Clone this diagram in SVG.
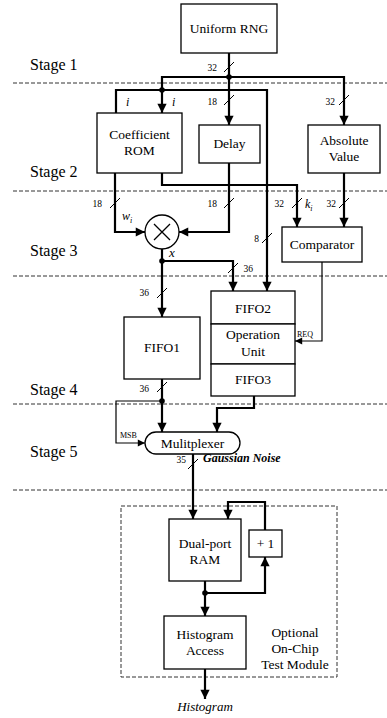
<svg xmlns="http://www.w3.org/2000/svg" width="387" height="718" viewBox="0 0 387 718" font-family="'Liberation Serif', 'DejaVu Serif', serif">
<style>
text{font-family:'Liberation Serif','DejaVu Serif',serif;fill:#000}
.box{fill:#fff;stroke:#000;stroke-width:1.3}
.lbl{font-size:13.5px;text-anchor:middle}
.stage{font-size:16px}
.num{font-size:9.5px;text-anchor:end}
.small{font-size:8px}
.dash{stroke:#333;stroke-width:1;stroke-dasharray:4 2;fill:none}
.w{fill:none;stroke:#000;stroke-width:2.2}
.t{fill:none;stroke:#000;stroke-width:1.2}
.sl{stroke:#000;stroke-width:1}
</style>
<defs>
<marker id="ah" viewBox="0 0 10 10" refX="10" refY="5" markerWidth="4.5" markerHeight="4.2" orient="auto" markerUnits="strokeWidth"><path d="M0,0 L10,5 L0,10 z" fill="#000"/></marker>
<marker id="ahs" viewBox="0 0 10 10" refX="10" refY="5" markerWidth="7" markerHeight="6" orient="auto" markerUnits="strokeWidth"><path d="M0,0 L10,5 L0,10 z" fill="#000"/></marker>
</defs>
<g id="stages">
<line class="dash" x1="13" y1="83" x2="387" y2="83"/>
<line class="dash" x1="13" y1="191" x2="387" y2="191"/>
<line class="dash" x1="13" y1="276" x2="387" y2="276"/>
<line class="dash" x1="13" y1="404" x2="387" y2="404"/>
<line class="dash" x1="13" y1="490" x2="387" y2="490"/>
<text class="stage" x="30" y="70">Stage 1</text>
<text class="stage" x="30" y="177">Stage 2</text>
<text class="stage" x="30" y="256">Stage 3</text>
<text class="stage" x="30" y="395">Stage 4</text>
<text class="stage" x="30" y="457">Stage 5</text>
</g>
<g id="test-module-frame">
<rect x="121" y="506" width="216" height="171" class="dash"/>
<text class="lbl" x="295" y="637">Optional</text>
<text class="lbl" x="295" y="653">On-Chip</text>
<text class="lbl" x="295" y="669">Test Module</text>
</g>
<g id="connectors">
<polyline class="w" points="229,53 229,125" marker-end="url(#ah)"/>
<polyline class="w" points="162,90 162,77 344,77 344,125" marker-end="url(#ah)"/>
<polyline class="w" points="116,113 116,90 267,90 267,291" marker-end="url(#ah)"/>
<line class="w" x1="162" y1="90" x2="162" y2="113" marker-end="url(#ah)"/>
<polyline class="w" points="115,173 115,232 145,232" marker-end="url(#ah)"/>
<polyline class="w" points="162,173 162,185 297,185 297,227" marker-end="url(#ah)"/>
<polyline class="w" points="229,163 229,232 179,232" marker-end="url(#ah)"/>
<line class="w" x1="344" y1="173" x2="344" y2="227" marker-end="url(#ah)"/>
<line class="w" x1="162" y1="249" x2="162" y2="317" marker-end="url(#ah)"/>
<polyline class="w" points="162,261 233,261 233,291" marker-end="url(#ah)"/>
<polyline class="t" points="322,262 322,341 295,341" marker-end="url(#ahs)"/>
<line class="w" x1="162" y1="379" x2="162" y2="432" marker-end="url(#ah)"/>
<polyline class="t" points="162,401 116,401 116,443 145,443" marker-end="url(#ahs)"/>
<polyline class="w" points="254,396 254,408 217,408 217,432" marker-end="url(#ah)"/>
<line class="w" x1="193" y1="454" x2="193" y2="519" marker-end="url(#ah)"/>
<polyline class="w" points="265,530 265,502 228,502 228,519" marker-end="url(#ah)"/>
<line class="w" x1="205" y1="581" x2="205" y2="616" marker-end="url(#ah)"/>
<polyline class="w" points="205,593 265,593 265,557" marker-end="url(#ah)"/>
<line class="w" x1="205" y1="669" x2="205" y2="699" marker-end="url(#ah)"/>
<circle cx="229" cy="77" r="2.8"/>
<circle cx="162" cy="90" r="2.8"/>
<circle cx="162" cy="261" r="2.8"/>
<circle cx="162" cy="401" r="2.8"/>
<circle cx="205" cy="593" r="2.8"/>
<line class="sl" x1="224" y1="72" x2="234" y2="62"/>
<line class="sl" x1="224" y1="105" x2="234" y2="95"/>
<line class="sl" x1="339" y1="105" x2="349" y2="95"/>
<line class="sl" x1="110" y1="208" x2="120" y2="198"/>
<line class="sl" x1="224" y1="208" x2="234" y2="198"/>
<line class="sl" x1="292" y1="208" x2="302" y2="198"/>
<line class="sl" x1="339" y1="208" x2="349" y2="198"/>
<line class="sl" x1="262" y1="243" x2="272" y2="233"/>
<line class="sl" x1="228" y1="273" x2="238" y2="263"/>
<line class="sl" x1="157" y1="298" x2="167" y2="288"/>
<line class="sl" x1="157" y1="392" x2="167" y2="382"/>
<line class="sl" x1="188" y1="469" x2="198" y2="459"/>
<text class="num" x="217" y="71">32</text>
<text class="num" x="217" y="105">18</text>
<text class="num" x="335" y="105">32</text>
<text class="num" x="102" y="207">18</text>
<text class="num" x="217" y="207">18</text>
<text class="num" x="284" y="207">32</text>
<text class="num" x="336" y="207">32</text>
<text class="num" x="259" y="242">8</text>
<text class="num" x="253" y="272">36</text>
<text class="num" x="149" y="296">36</text>
<text class="num" x="149" y="392">36</text>
<text class="num" x="186" y="463">35</text>
<text x="126" y="106" style="font-size:12px;font-style:italic">i</text>
<text x="172" y="106" style="font-size:12px;font-style:italic">i</text>
<text x="305" y="208" style="font-size:12px;font-style:italic">k<tspan dy="3" style="font-size:8px">i</tspan></text>
<text x="122" y="220" style="font-size:12px;font-style:italic">w<tspan dy="3" style="font-size:8px">i</tspan></text>
<text x="169" y="257" style="font-size:13px;font-style:italic">x</text>
<text class="small" x="297" y="337">REQ</text>
<text class="small" x="120" y="438">MSB</text>
<text x="203" y="462" style="font-size:12px;font-weight:bold;font-style:italic">Gaussian Noise</text>
<text class="lbl" x="205" y="711" style="font-size:13px;font-style:italic">Histogram</text>
</g>
<g id="rng"><rect class="box" x="181" y="4" width="96" height="49"/><text class="lbl" x="229" y="33">Uniform RNG</text></g>
<g id="rom"><rect class="box" x="97" y="113" width="85" height="60"/><text class="lbl" x="139.5" y="139">Coefficient</text><text class="lbl" x="139.5" y="155">ROM</text></g>
<g id="delay"><rect class="box" x="199" y="125" width="61" height="38"/><text class="lbl" x="229.5" y="148">Delay</text></g>
<g id="abs"><rect class="box" x="308" y="125" width="72" height="48"/><text class="lbl" x="344" y="145">Absolute</text><text class="lbl" x="344" y="161">Value</text></g>
<g id="multiplier"><circle cx="162" cy="232" r="17" class="box"/><path d="M154,224 L170,240 M170,224 L154,240" stroke="#000" stroke-width="1.3"/></g>
<g id="comparator"><rect class="box" x="282" y="227" width="80" height="35"/><text class="lbl" x="322" y="249">Comparator</text></g>
<g id="fifo1"><rect class="box" x="124" y="317" width="76" height="62"/><text class="lbl" x="162" y="352">FIFO1</text></g>
<g id="fifo2"><rect class="box" x="211" y="291" width="84" height="33"/><text class="lbl" x="253" y="313">FIFO2</text></g>
<g id="opunit"><rect class="box" x="211" y="324" width="84" height="40"/><text class="lbl" x="253" y="339">Operation</text><text class="lbl" x="253" y="356">Unit</text></g>
<g id="fifo3"><rect class="box" x="211" y="364" width="84" height="32"/><text class="lbl" x="253" y="384">FIFO3</text></g>
<g id="mux"><rect class="box" x="145" y="432" width="95" height="22" rx="11" ry="11"/><text class="lbl" x="192.5" y="448">Mulitplexer</text></g>
<g id="ram"><rect class="box" x="169" y="519" width="72" height="62"/><text class="lbl" x="205" y="548">Dual-port</text><text class="lbl" x="205" y="564">RAM</text></g>
<g id="inc"><rect class="box" x="249" y="530" width="33" height="27"/><text class="lbl" x="265.5" y="548">+ 1</text></g>
<g id="hist"><rect class="box" x="164" y="616" width="82" height="53"/><text class="lbl" x="205" y="639">Histogram</text><text class="lbl" x="205" y="655">Access</text></g>
</svg>
